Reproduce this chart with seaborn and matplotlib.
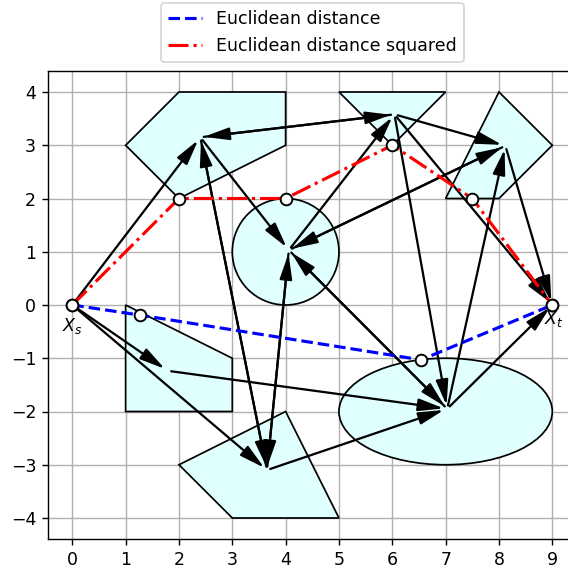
import matplotlib
matplotlib.use("Agg")
import matplotlib.pyplot as plt
from matplotlib.patches import Polygon, Circle, Ellipse
import seaborn as sns

# convex sets
set_top_left = [(1, 3), (2, 4), (4, 4), (4, 3), (2, 2)]
set_triangle = [(5, 4), (7, 4), (6, 3)]
set_top_right = [(7, 2), (8, 2), (9, 3), (8, 4)]
set_mid_left = [(1, 0), (3, -1), (3, -2), (1, -2)]
set_bottom = [(2, -3), (4, -2), (5, -4), (3, -4)]
circle_center, circle_r = (4, 1), 1
ellipse_center, ellipse_w, ellipse_h = (7, -2), 4, 2

# graph nodes (one per set + source / target)
node_names = ["s", "a", "b", "c", "d", "e", "f", "g", "t"]
node_x = [0, 2.4, 4.06, 6.04, 8.12, 1.79, 3.65, 7.03, 9]
node_y = [0, 3.15, 1.03, 3.58, 2.99, -1.236, -3.1, -1.95, 0]
edges = [
    ("s", "a"), ("s", "e"), ("s", "f"),
    ("a", "b"), ("a", "c"), ("a", "f"),
    ("b", "c"), ("b", "d"), ("b", "f"), ("b", "g"),
    ("c", "a"), ("c", "d"), ("c", "g"), ("c", "t"),
    ("d", "b"), ("d", "t"),
    ("e", "g"),
    ("f", "a"), ("f", "b"), ("f", "g"),
    ("g", "b"), ("g", "d"), ("g", "t"),
]

# shortest paths
l2_x = [0, 1.27, 6.54, 9]
l2_y = [0, -0.19, -1.03, 0]
l2sq_x = [0, 2, 4, 6, 7.5, 9]
l2sq_y = [0, 2, 2, 3, 2, 0]

fig = plt.figure(figsize=(568 / 125, 569 / 125), dpi=125)
ax = fig.add_axes([48.3 / 568, 29.7 / 569, 528 / 568, 468.6 / 569])
ax.set_axisbelow(True)
ax.grid(True, color="#b0b0b0", lw=0.8)
ax.spines["right"].set_visible(False)

fill = "#e0ffff"
for pts in [set_top_left, set_triangle, set_top_right, set_mid_left, set_bottom]:
    ax.add_patch(Polygon(pts, closed=True, fc=fill, ec="k", lw=1, zorder=1))
ax.add_patch(Circle(circle_center, circle_r, fc=fill, ec="k", lw=1, zorder=1))
ax.add_patch(Ellipse(ellipse_center, ellipse_w, ellipse_h, fc=fill, ec="k", lw=1, zorder=1))

pos = {n: (x, y) for n, x, y in zip(node_names, node_x, node_y)}
for u, v in edges:
    ax.annotate("", xy=pos[v], xytext=pos[u],
                arrowprops=dict(arrowstyle="-|>,head_length=1.23,head_width=0.3",
                                mutation_scale=10, color="k", lw=1.3,
                                shrinkA=2, shrinkB=2), zorder=2)

sns.lineplot(x=l2_x, y=l2_y, sort=False, color="blue", linestyle="--", lw=1.8,
             label="Euclidean distance", ax=ax, zorder=3)
sns.lineplot(x=l2sq_x, y=l2sq_y, sort=False, color="red", linestyle="-.", lw=1.8,
             label="Euclidean distance squared", ax=ax, zorder=3)
sns.scatterplot(x=l2_x + l2sq_x, y=l2_y + l2sq_y, s=45, color="white",
                edgecolor="black", linewidth=1.1, ax=ax, zorder=4, legend=False)

ax.text(0, -0.2, r"$X_s$", ha="center", va="top", fontsize=10)
ax.text(9.03, -0.08, r"$X_t$", ha="center", va="top", fontsize=10)

ax.set_xlim(-0.45, 9.45)
ax.set_ylim(-4.4, 4.4)
ax.set_xticks(range(0, 10))
ax.set_yticks(range(-4, 5))
ax.legend(loc="lower center", bbox_to_anchor=(0.5, 1.0))

fig.savefig("out.png", dpi=125)
